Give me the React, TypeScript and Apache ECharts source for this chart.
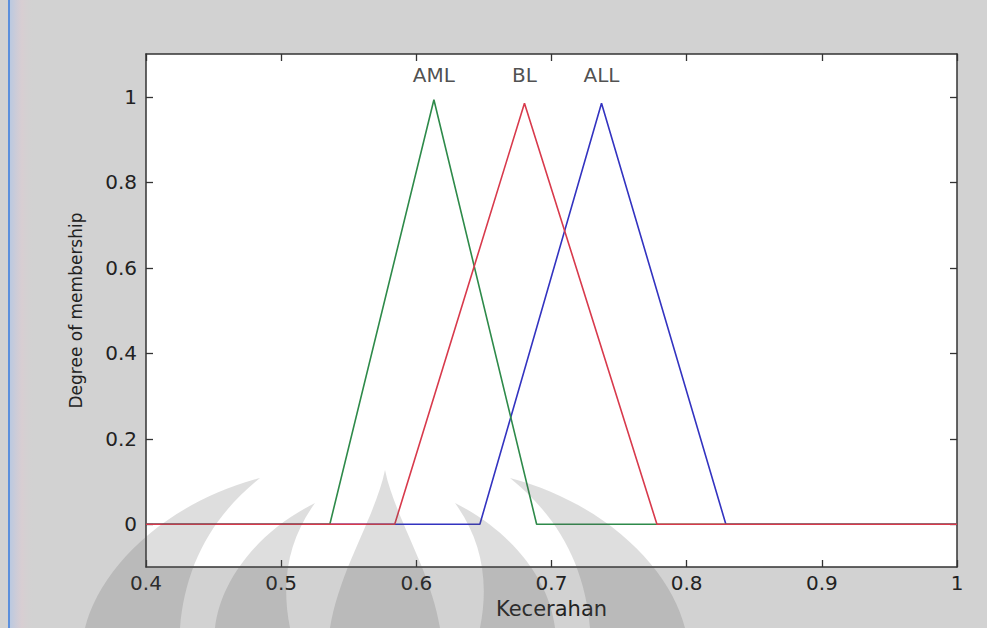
import React, { useEffect, useRef } from "react";
import * as echarts from "echarts";

const xTicks = [0.4, 0.5, 0.6, 0.7, 0.8, 0.9, 1];
const yTicks = [0, 0.2, 0.4, 0.6, 0.8, 1];

const amlX = [0.4, 0.536, 0.613, 0.689, 1];
const amlY = [0, 0, 0.993, 0, 0];
const blX = [0.4, 0.584, 0.68, 0.778, 1];
const blY = [0, 0, 0.985, 0, 0];
const allX = [0.4, 0.647, 0.737, 0.829, 1];
const allY = [0, 0, 0.985, 0, 0];

const labelNames = ["AML", "BL", "ALL"];
const labelX = [0.613, 0.68, 0.737];
const labelY = [1.05, 1.05, 1.05];

const zip = (xs: number[], ys: number[]) => xs.map((x, i) => [x, ys[i]]);

const logoD =
  "M 0 -158 C -10 -110 -45 -60 -55 0 L 55 0 C 45 -60 10 -110 0 -158 Z " +
  "M -70 -125 C -130 -95 -165 -45 -170 0 L -95 0 C -105 -50 -95 -90 -70 -125 Z " +
  "M 70 -125 C 130 -95 165 -45 170 0 L 95 0 C 105 -50 95 -90 70 -125 Z " +
  "M -125 -150 C -220 -125 -285 -60 -300 0 L -205 0 C -200 -60 -175 -110 -125 -150 Z " +
  "M 125 -150 C 220 -125 285 -60 300 0 L 205 0 C 200 -60 175 -110 125 -150 Z";

let registered = false;

export default function App() {
  const ref = useRef<HTMLDivElement>(null);
  useEffect(() => {
    if (!ref.current) return;
    if (!registered) {
      echarts.graphic.registerShape("logo", (echarts.graphic as any).extendPath(logoD, {}));
      registered = true;
    }
    const chart = echarts.init(ref.current, null, { renderer: "svg" });
    const font = "DejaVu Sans";
    const axisLine = { show: true, onZero: false, lineStyle: { color: "#333", width: 1.5 } };
    const tick = (vals: number[]) => ({
      show: true,
      inside: true,
      length: 7,
      customValues: vals,
      lineStyle: { color: "#333", width: 1.3 },
    });
    chart.setOption({
      animation: false,
      backgroundColor: "#d2d2d2",
      grid: {
        left: 146,
        right: 30,
        top: 54,
        bottom: 61,
        show: true,
        backgroundColor: "#ffffff",
        borderWidth: 0,
      },
      xAxis: [
        {
          type: "value",
          min: 0.4,
          max: 1,
          position: "bottom",
          axisLine,
          axisTick: tick(xTicks),
          axisLabel: {
            customValues: xTicks,
            color: "#222",
            fontFamily: font,
            fontSize: 20,
            margin: 6,
          },
          splitLine: { show: false },
          name: "Kecerahan",
          nameLocation: "middle",
          nameGap: 31,
          nameTextStyle: { color: "#222", fontFamily: font, fontSize: 21 },
        },
        {
          type: "value",
          min: 0.4,
          max: 1,
          position: "top",
          axisLine,
          axisTick: tick(xTicks),
          axisLabel: { show: false },
          splitLine: { show: false },
        },
      ],
      yAxis: [
        {
          type: "value",
          min: -0.1,
          max: 1.1,
          position: "left",
          axisLine,
          axisTick: tick(yTicks),
          axisLabel: {
            customValues: yTicks,
            color: "#222",
            fontFamily: font,
            fontSize: 20,
            margin: 9,
          },
          splitLine: { show: false },
          name: "Degree of membership",
          nameLocation: "middle",
          nameGap: 62,
          nameTextStyle: { color: "#222", fontFamily: font, fontSize: 17 },
        },
        {
          type: "value",
          min: -0.1,
          max: 1.1,
          position: "right",
          axisLine,
          axisTick: tick(yTicks),
          axisLabel: { show: false },
          splitLine: { show: false },
        },
      ],
      series: [
        {
          name: "ALL",
          type: "line",
          data: zip(allX, allY),
          symbol: "none",
          lineStyle: { color: "#3333c0", width: 1.6 },
          z: 2,
        },
        {
          name: "AML",
          type: "line",
          data: zip(amlX, amlY),
          symbol: "none",
          lineStyle: { color: "#2e8a4a", width: 1.6 },
          z: 3,
        },
        {
          name: "BL",
          type: "line",
          data: zip(blX, blY),
          symbol: "none",
          lineStyle: { color: "#d83a4c", width: 1.6 },
          z: 4,
        },
        {
          type: "scatter",
          symbolSize: 0,
          data: labelNames.map((n, i) => ({ name: n, value: [labelX[i], labelY[i]] })),
          label: {
            show: true,
            position: "inside",
            formatter: (p: any) => p.name,
            color: "#222",
            fontFamily: font,
            fontSize: 20,
          },
          silent: true,
          z: 5,
        },
      ],
      graphic: [
        { type: "rect", left: 8, top: 0, shape: { width: 2, height: 628 }, style: { fill: "#5b8fdc" }, z: 10 },
        {
          type: "rect",
          left: 10,
          top: 0,
          shape: { width: 24, height: 628 },
          style: {
            fill: new echarts.graphic.LinearGradient(0, 0, 1, 0, [
              { offset: 0, color: "rgba(170,195,235,0.6)" },
              { offset: 0.5, color: "rgba(225,200,210,0.4)" },
              { offset: 1, color: "rgba(210,210,210,0)" },
            ]),
          },
          z: 10,
        },
        {
          type: "logo",
          x: 385,
          y: 628,
          silent: true,
          style: { fill: "rgba(90,90,90,0.2)" },
          z: 20,
        },
      ],
    });
    return () => chart.dispose();
  }, []);
  return (
    <div
      ref={ref}
      style={{ position: "absolute", left: 0, top: 0, width: 987, height: 628 }}
    />
  );
}
